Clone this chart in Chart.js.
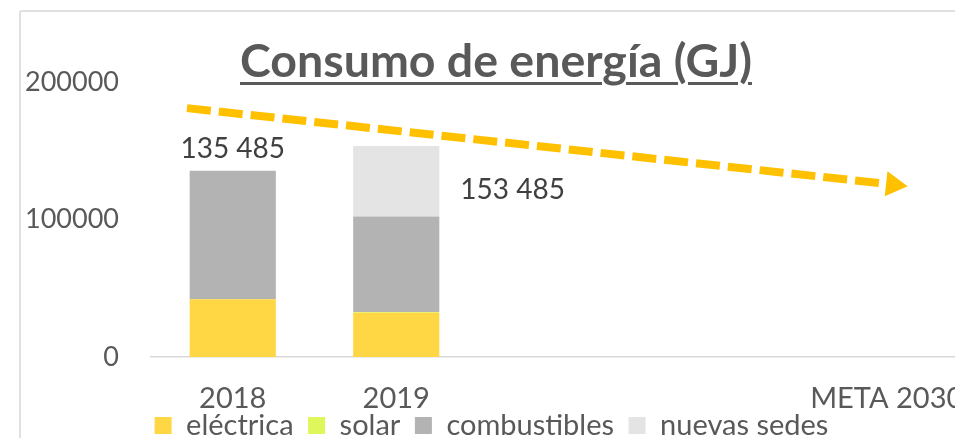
<!DOCTYPE html>
<html>
<head>
<meta charset="utf-8">
<script src="https://cdn.jsdelivr.net/npm/chart.js@4.4.0/dist/chart.umd.min.js"></script>
<style>
  html, body { margin:0; padding:0; overflow:hidden; background:#ffffff; width:955px; height:438px; }
  #frame { position:absolute; left:19px; top:10px; width:1000px; height:500px;
           border-left:2px solid #e0e0e0; border-top:2px solid #e0e0e0; border-top-left-radius:3px; }
  #wrap { position:absolute; left:0; top:0; width:983px; height:460px; }
  #title { position:absolute; left:0; top:36px; width:992px; text-align:center;
           font-family:Lato, sans-serif; font-weight:bold; font-size:46.5px; line-height:1;
           color:#595959; text-decoration:underline; text-decoration-thickness:3px;
           text-underline-offset:5px; white-space:nowrap; }
</style>
</head>
<body>
<div id="frame"></div>
<div id="wrap"><canvas id="c"></canvas></div>
<div id="title">Consumo de energía (GJ)</div>
<script>
// ---- data ----
const categories   = ['2018', '2019', '', '', 'META 2030'];
const seriesNames  = ['eléctrica', 'solar', 'combustibles', 'nuevas sedes'];
const electrica    = [42000, 32100, null, null, null];
const solar        = [0, 600, null, null, null];
const combustibles = [93485, 69500, null, null, null];
const nuevasSedes  = [0, 51285, null, null, null];
const totalLabels  = ['135 485', '153 485', '', '', ''];
const yTicks       = [0, 100000, 200000];
const trendX       = [-0.28, 4.04];
const trendY       = [181000, 125400];

// ---- styles ----
const colors = ['#FFD744', '#DFF75A', '#B3B3B3', '#E4E4E4'];
const arrowColor = '#FFC000';
const FONT = 'Lato';

const barSets = [electrica, solar, combustibles, nuevasSedes].map((d, i) => ({
  type: 'bar',
  label: seriesNames[i],
  data: d,
  backgroundColor: colors[i],
  borderWidth: 0,
  stack: 'consumo',
  grouped: false,
  categoryPercentage: 1,
  barPercentage: 0.527,
  order: 2
}));

const trendSet = {
  type: 'line',
  label: 'tendencia',
  xAxisID: 'xt',
  yAxisID: 'y',
  stack: 'consumo',
  data: trendX.map((x, i) => ({ x: x, y: trendY[i] })),
  borderColor: arrowColor,
  borderWidth: 8,
  borderDash: [24, 8],
  borderCapStyle: 'butt',
  fill: false,
  tension: 0,
  pointStyle: 'triangle',
  pointRadius: [0, 14.5],
  pointHoverRadius: [0, 14.5],
  pointBackgroundColor: arrowColor,
  pointBorderWidth: 0,
  pointRotation: (c) => {
    const xs = c.chart.scales.xt, ys = c.chart.scales.y;
    if (!xs || !ys) return 96;
    const dx = xs.getPixelForValue(trendX[1]) - xs.getPixelForValue(trendX[0]);
    const dy = ys.getPixelForValue(trendY[1]) - ys.getPixelForValue(trendY[0]);
    return 90 + Math.atan2(dy, dx) * 180 / Math.PI;
  },
  order: 1
};

const labelPlugin = {
  id: 'totals',
  afterDatasetsDraw(chart) {
    const ctx = chart.ctx;
    const topIdx = barSets.length - 1;
    ctx.save();
    ctx.font = '28px ' + FONT;
    ctx.fillStyle = '#404040';
    ctx.textBaseline = 'middle';
    totalLabels.forEach((txt, i) => {
      if (!txt) return;
      let seg = null, segIdx = -1;
      for (let d = topIdx; d >= 0; d--) {
        const v = chart.data.datasets[d].data[i];
        if (v) { seg = chart.getDatasetMeta(d).data[i]; segIdx = d; break; }
      }
      if (!seg) return;
      if (segIdx === topIdx) {
        ctx.textAlign = 'left';
        ctx.fillText(txt, seg.x + seg.width / 2 + 21, (seg.y + seg.base) / 2 + 9);
      } else {
        ctx.textAlign = 'center';
        ctx.fillText(txt, seg.x, seg.y - 22);
      }
    });
    ctx.restore();
  }
};

new Chart(document.getElementById('c'), {
  data: { labels: categories, datasets: [...barSets, trendSet] },
  options: {
    responsive: true,
    maintainAspectRatio: false,
    animation: false,
    layout: { padding: { left: 12, right: 12, top: 82, bottom: 10 } },
    plugins: {
      title: { display: false },
      tooltip: { enabled: false },
      legend: {
        position: 'bottom',
        align: 'center',
        labels: {
          boxWidth: 17, boxHeight: 17, padding: 0,
          color: '#595959',
          font: { family: FONT, size: 29 },
          filter: (item) => item.datasetIndex < barSets.length,
          generateLabels: (chart) => {
            const items = Chart.defaults.plugins.legend.labels.generateLabels(chart)
              .filter(it => it.datasetIndex < barSets.length);
            items.forEach((it, k) => { if (k < items.length - 1) it.text = it.text + '\u2002'; });
            return items;
          }
        }
      }
    },
    scales: {
      x: {
        type: 'category',
        stacked: true,
        offset: true,
        grid: { display: false, drawTicks: false },
        border: { display: true, color: '#d9d9d9', width: 1.5 },
        ticks: { color: '#595959', font: { family: FONT, size: 29 }, padding: 24,
                 maxRotation: 0, autoSkip: false },
        afterFit: (s) => { s.height = 54; s.paddingLeft = 0; s.paddingRight = 0; }
      },
      xt: {
        type: 'linear',
        display: false,
        min: -0.5, max: categories.length - 0.5,
        offset: false
      },
      y: {
        stacked: true,
        min: yTicks[0], max: yTicks[yTicks.length - 1],
        grid: { display: false, drawTicks: false },
        border: { display: false },
        afterBuildTicks: (s) => { s.ticks = yTicks.map(v => ({ value: v })); },
        ticks: { color: '#595959', font: { family: FONT, size: 27 }, padding: 32,
                 callback: (v) => String(v) },
        afterFit: (s) => { s.width = 139; }
      }
    }
  },
  plugins: [labelPlugin]
});
</script>
</body>
</html>
